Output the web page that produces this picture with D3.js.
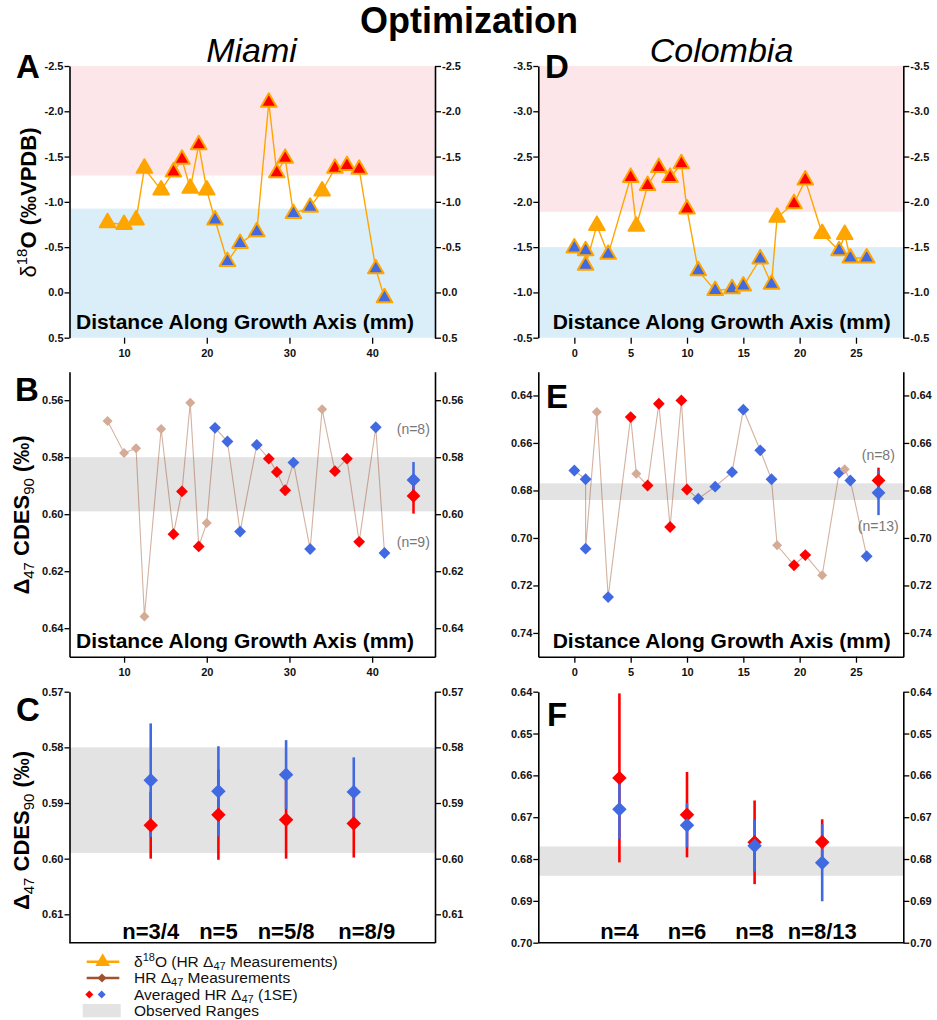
<!DOCTYPE html>
<html>
<head>
<meta charset="utf-8">
<script src="https://cdn.jsdelivr.net/npm/d3@7"></script>
<style>
  body { margin: 0; background: #fff; }
  svg { display: block; font-family: "Liberation Sans", Arial, sans-serif; }
</style>
</head>
<body>
<div id="chart"></div>
<script>
// ---- Miami (A, B, C) ----
const miamiDist = [8.0, 10.0, 11.45, 12.46, 14.48, 15.97, 17.0, 18.0, 19.03, 20.0, 21.0, 22.5, 24.03,
  26.05, 27.5, 28.47, 29.48, 30.48, 32.5, 33.95, 35.5, 36.95, 38.43, 40.44, 41.49];
const miamiD18O = [-0.77, -0.75, -0.80, -1.37, -1.13, -1.33, -1.47, -1.15, -1.63, -1.13, -0.80, -0.34, -0.54,
  -0.67, -2.10, -1.32, -1.48, -0.87, -0.94, -1.12, -1.37, -1.40, -1.36, -0.26, 0.06];
const miamiD47 = [0.5673, 0.5785, 0.5769, 0.6359, 0.5701, 0.6070, 0.5920, 0.5609, 0.6113, 0.6031, 0.5697, 0.5745, 0.6061,
  0.5757, 0.5805, 0.5852, 0.5916, 0.5819, 0.6122, 0.5632, 0.5849, 0.5805, 0.6097, 0.5695, 0.6136];
const miamiGroup = ['o', 'o', 'o', 'o', 'o', 'r', 'r', 'o', 'r', 'o', 'b', 'b', 'b',
  'b', 'r', 'r', 'r', 'b', 'b', 'o', 'r', 'r', 'r', 'b', 'b'];
const miamiPinkBand = [-2.5, -1.29];
const miamiBlueBand = [-0.925, 0.5];
const miamiObserved = [0.58, 0.599];
const miamiAvgX = 45;
const miamiAvgRed = [0.5936, 0.0062];
const miamiAvgBlue = [0.5880, 0.0063];
const miamiAvgLabels = ['(n=8)', '(n=9)'];

const miamiN = ['n=3/4', 'n=5', 'n=5/8', 'n=8/9'];
const miamiRedMean = [0.5940, 0.5921, 0.5930, 0.5937];
const miamiRedSE = [0.0060, 0.0081, 0.0070, 0.0061];
const miamiBlueMean = [0.5859, 0.5879, 0.5849, 0.5880];
const miamiBlueSE = [0.0102, 0.0081, 0.0062, 0.0062];

// ---- Colombia (D, E, F) ----
const colDist = [0, 1.0, 1.0, 2.0, 3.0, 5.0, 5.5, 6.5, 7.5, 8.5, 9.5, 10.0, 11.0,
  12.5, 14.0, 15.0, 16.5, 17.5, 18.0, 19.5, 20.5, 22.0, 23.5, 24.0, 24.5, 25.95];
const colD18O = [-1.49, -1.46, -1.30, -1.74, -1.42, -2.27, -1.73, -2.18, -2.38, -2.27, -2.42, -1.92, -1.24,
  -1.02, -1.04, -1.07, -1.37, -1.09, -1.83, -1.98, -2.24, -1.65, -1.46, -1.64, -1.38, -1.38];
const colD47 = [0.6716, 0.6753, 0.7045, 0.6470, 0.7249, 0.6491, 0.6730, 0.6779, 0.6435, 0.6954, 0.6421, 0.6796, 0.6835,
  0.6784, 0.6723, 0.6460, 0.6631, 0.6753, 0.7031, 0.7115, 0.7072, 0.7157, 0.6725, 0.6711, 0.6758, 0.7077];
const colGroup = ['b', 'b', 'b', 'o', 'b', 'r', 'o', 'r', 'r', 'r', 'r', 'r', 'b',
  'b', 'b', 'b', 'b', 'b', 'o', 'r', 'r', 'o', 'b', 'o', 'b', 'b'];
const colPinkBand = [-3.5, -1.89];
const colBlueBand = [-1.5, -0.5];
const colObserved = [0.677, 0.684];
const colAvgX = 27;
const colAvgRed = [0.6758, 0.0054];
const colAvgBlue = [0.6810, 0.0094];
const colAvgLabels = ['(n=8)', '(n=13)'];

const colN = ['n=4', 'n=6', 'n=8', 'n=8/13'];
const colRedMean = [0.6606, 0.6694, 0.6760, 0.6759];
const colRedSE = [0.0202, 0.0102, 0.0100, 0.0054];
const colBlueMean = [0.6681, 0.6719, 0.6768, 0.6809];
const colBlueSE = [0.0071, 0.0053, 0.0062, 0.0092];

// ticks
const miamiXTicks = [10, 20, 30, 40];
const colXTicks = [0, 5, 10, 15, 20, 25];
const miamiOTicks = [-2.5, -2.0, -1.5, -1.0, -0.5, 0.0, 0.5];
const colOTicks = [-3.5, -3.0, -2.5, -2.0, -1.5, -1.0, -0.5];
const miamiBTicks = [0.56, 0.58, 0.60, 0.62, 0.64];
const colETicks = [0.64, 0.66, 0.68, 0.70, 0.72, 0.74];
const miamiCTicks = [0.57, 0.58, 0.59, 0.60, 0.61];
const colFTicks = [0.64, 0.65, 0.66, 0.67, 0.68, 0.69, 0.70];

// colours
const ORANGE = '#ffa500', RED = '#ff0000', BLUE = '#4169e1', TAN = '#d3ab97', BROWN = '#a0522d';
const fillOf = { o: ORANGE, r: RED, b: BLUE };

// layout
const W = 937, H = 1020;
const colL = [69.5, 435], colR = [538.3, 903.3];
const rowTop = [66, 337.7], rowMid = [371.7, 656.7], rowBot = [691.7, 942.7];

const svg = d3.select('#chart').append('svg').attr('width', W).attr('height', H);

const tri = d3.symbol(d3.symbolTriangle, 105);
const diamond = s => d3.symbol(d3.symbolSquare, s);

function styleAxis(a, lineW) {
  a.selectAll('path.domain').attr('stroke', '#000').attr('stroke-width', lineW);
  a.selectAll('.tick line').attr('stroke', '#000').attr('stroke-width', 1.3);
  a.selectAll('.tick text').attr('fill', '#111').attr('font-size', 11).attr('font-weight', 'bold')
    .attr('font-family', '"Liberation Sans", Arial, sans-serif');
}

function yAxes(y, xr, ticks, fmt) {
  const l = svg.append('g').attr('transform', `translate(${xr[0]},0)`)
    .call(d3.axisLeft(y).tickValues(ticks).tickFormat(fmt).tickSize(5).tickSizeOuter(0).tickPadding(1));
  styleAxis(l, 1.6);
  const r = svg.append('g').attr('transform', `translate(${xr[1]},0)`)
    .call(d3.axisRight(y).tickValues(ticks).tickFormat(fmt).tickSize(6).tickSizeOuter(0).tickPadding(1));
  styleAxis(r, 1.6);
}

function xAxis(x, yPos, ticks, showDomain) {
  const a = svg.append('g').attr('transform', `translate(0,${yPos})`)
    .call(d3.axisBottom(x).tickValues(ticks).tickFormat(d3.format('d')).tickSize(6).tickSizeOuter(0).tickPadding(6));
  styleAxis(a, 1.6);
  if (!showDomain) a.select('path.domain').remove();
}

function band(x, y, range, color) {
  svg.append('rect')
    .attr('x', x.range()[0]).attr('width', x.range()[1] - x.range()[0])
    .attr('y', y(range[0])).attr('height', y(range[1]) - y(range[0]))
    .attr('fill', color);
}

function distLabel(xStart, yBase) {
  svg.append('text').attr('x', xStart).attr('y', yBase)
    .attr('font-size', 21).attr('font-weight', 'bold').attr('fill', '#000')
    .text('Distance Along Growth Axis (mm)');
}

function panelLetter(ch, x, y) {
  svg.append('text').attr('x', x).attr('y', y)
    .attr('font-size', 33).attr('font-weight', 'bold').text(ch);
}

const f1 = d => d.toFixed(1);
const f2 = d => d.toFixed(2);

// ---------- δ18O panels ----------
function d18Panel(xr, xDom, yDom, xTicks, yTicks, dist, vals, groups, pink, blue) {
  const x = d3.scaleLinear().domain(xDom).range(xr);
  const y = d3.scaleLinear().domain(yDom).range(rowTop);
  band(x, y, pink, '#fde6ea');
  band(x, y, blue, '#d9eef9');
  yAxes(y, xr, yTicks, f1);
  xAxis(x, rowTop[1], xTicks, false);

  const pts = dist.map((d, i) => ({ x: d, y: vals[i], g: groups[i] }));
  svg.append('path').datum(pts)
    .attr('fill', 'none').attr('stroke', ORANGE).attr('stroke-width', 1.4)
    .attr('d', d3.line().x(d => x(d.x)).y(d => y(d.y)));
  svg.append('g').selectAll('path').data(pts).join('path')
    .attr('transform', d => `translate(${x(d.x)},${y(d.y)})`)
    .attr('d', tri)
    .attr('fill', d => fillOf[d.g])
    .attr('stroke', ORANGE).attr('stroke-width', 2).attr('stroke-linejoin', 'round');
}

// ---------- Δ47 series panels ----------
function errBar(x, y, xv, m, se, color, w) {
  svg.append('line').attr('x1', x(xv)).attr('x2', x(xv))
    .attr('y1', y(m - se)).attr('y2', y(m + se))
    .attr('stroke', color).attr('stroke-width', w);
}
function avgDiamond(x, y, xv, m, color, s) {
  svg.append('path').attr('d', diamond(s))
    .attr('transform', `translate(${x(xv)},${y(m)}) rotate(45)`)
    .attr('fill', color);
}

function d47Panel(xr, xDom, yDom, xTicks, yTicks, dist, vals, groups, obs, avgX, avgRed, avgBlue) {
  const x = d3.scaleLinear().domain(xDom).range(xr);
  const y = d3.scaleLinear().domain(yDom).range(rowMid);
  band(x, y, obs, '#e3e3e3');
  yAxes(y, xr, yTicks, f2);
  xAxis(x, rowMid[1], xTicks, true);

  const pts = dist.map((d, i) => ({ x: d, y: vals[i], g: groups[i] }));
  svg.append('path').datum(pts)
    .attr('fill', 'none').attr('stroke', BROWN).attr('stroke-opacity', 0.45).attr('stroke-width', 1.1)
    .attr('d', d3.line().x(d => x(d.x)).y(d => y(d.y)));
  svg.append('g').selectAll('path').data(pts).join('path')
    .attr('transform', d => `translate(${x(d.x)},${y(d.y)}) rotate(45)`)
    .attr('d', d => diamond(d.g === 'o' ? 50 : 70)())
    .attr('fill', d => d.g === 'o' ? TAN : fillOf[d.g]);

  errBar(x, y, avgX, avgRed[0], avgRed[1], RED, 2.5);
  errBar(x, y, avgX, avgBlue[0], avgBlue[1], BLUE, 2.5);
  avgDiamond(x, y, avgX, avgRed[0], RED, 95);
  avgDiamond(x, y, avgX, avgBlue[0], BLUE, 95);
}

// ===== Titles =====
svg.append('text').attr('x', 469).attr('y', 33).attr('text-anchor', 'middle')
  .attr('font-size', 36).attr('font-weight', 'bold').text('Optimization');
svg.append('text').attr('x', 251.5).attr('y', 61.5).attr('text-anchor', 'middle')
  .attr('font-size', 34).attr('font-style', 'italic').text('Miami');
svg.append('text').attr('x', 721.5).attr('y', 61.5).attr('text-anchor', 'middle')
  .attr('font-size', 34).attr('font-style', 'italic').text('Colombia');

// ===== A & D =====
d18Panel(colL, [3.4, 47.6], [-2.5, 0.5], miamiXTicks, miamiOTicks, miamiDist, miamiD18O, miamiGroup, miamiPinkBand, miamiBlueBand);
d18Panel(colR, [-3.2, 29.2], [-3.5, -0.5], colXTicks, colOTicks, colDist, colD18O, colGroup, colPinkBand, colBlueBand);
distLabel(76, 329.3);
distLabel(552.7, 329.3);

// ===== B & E =====
d47Panel(colL, [3.4, 47.6], [0.55, 0.65], miamiXTicks, miamiBTicks, miamiDist, miamiD47, miamiGroup,
  miamiObserved, miamiAvgX, miamiAvgRed, miamiAvgBlue);
d47Panel(colR, [-3.2, 29.2], [0.63, 0.75], colXTicks, colETicks, colDist, colD47, colGroup,
  colObserved, colAvgX, colAvgRed, colAvgBlue);
distLabel(76, 648.3);
distLabel(552.7, 648.3);

// grey n-labels beside the averaged points
const nLab = (x, y, t) => svg.append('text').attr('x', x).attr('y', y).attr('text-anchor', 'middle')
  .attr('font-size', 14).attr('fill', '#777').text(t);
nLab(413.3, 433.5, miamiAvgLabels[0]);
nLab(413.3, 547, miamiAvgLabels[1]);
nLab(878.3, 460, colAvgLabels[0]);
nLab(878.3, 530.5, colAvgLabels[1]);

// ===== C & F =====
function summary(xr, yDom, yTicks, obs, labels, rm, rse, bm, bse, shifts) {
  const x = d3.scaleLinear().domain([-0.2, 5.2]).range(xr);
  const y = d3.scaleLinear().domain(yDom).range(rowBot);
  band(x, y, obs, '#e3e3e3');
  yAxes(y, xr, yTicks, f2);
  svg.append('line').attr('x1', xr[0]).attr('x2', xr[1]).attr('y1', rowBot[1]).attr('y2', rowBot[1])
    .attr('stroke', '#000').attr('stroke-width', 1.6);
  const idx = d3.range(labels.length);
  idx.forEach(i => errBar(x, y, i + 1, rm[i], rse[i], RED, 2.6));
  idx.forEach(i => errBar(x, y, i + 1, bm[i], bse[i], BLUE, 2.6));
  idx.forEach(i => avgDiamond(x, y, i + 1, rm[i], RED, 105));
  idx.forEach(i => avgDiamond(x, y, i + 1, bm[i], BLUE, 105));
  svg.append('g').selectAll('text').data(labels).join('text')
    .attr('x', (d, i) => x(i + 1) + shifts[i]).attr('y', rowBot[1] - 3.5)
    .attr('text-anchor', 'middle').attr('font-size', 22).attr('font-weight', 'bold')
    .text(d => d);
}
summary(colL, [0.57, 0.6151], miamiCTicks, miamiObserved, miamiN, miamiRedMean, miamiRedSE, miamiBlueMean, miamiBlueSE, [0, 0, 0, 13]);
summary(colR, [0.64, 0.70], colFTicks, colObserved, colN, colRedMean, colRedSE, colBlueMean, colBlueSE, [0, 0, 0, 0]);

// ===== panel letters =====
panelLetter('A', 16, 78.3);
panelLetter('B', 15, 400.7);
panelLetter('C', 16, 720.7);
panelLetter('D', 545, 78.3);
panelLetter('E', 546, 408);
panelLetter('F', 547, 725.7);

// ===== y-axis titles =====
function d18Title(cx, cy) {
  const t = svg.append('text').attr('transform', `translate(${cx},${cy}) rotate(-90)`)
    .attr('text-anchor', 'middle').attr('font-size', 22);
  t.append('tspan').text('δ');
  t.append('tspan').attr('font-size', 15).attr('dy', -9).text('18');
  t.append('tspan').attr('dy', 9).attr('font-weight', 'bold').text('O (‰VPDB)');
}
function d47Title(cx, cy) {
  const t = svg.append('text').attr('transform', `translate(${cx},${cy}) rotate(-90)`)
    .attr('text-anchor', 'middle').attr('font-size', 22).attr('font-weight', 'bold');
  t.append('tspan').text('Δ');
  t.append('tspan').attr('font-size', 15).attr('font-weight', 'normal').attr('dy', 5).text('47');
  t.append('tspan').attr('dy', -5).text(' CDES');
  t.append('tspan').attr('font-size', 15).attr('font-weight', 'normal').attr('dy', 5).text('90');
  t.append('tspan').attr('dy', -5).text(' (‰)');
}
d18Title(36, 202.5);
d47Title(29, 515);
d47Title(29, 830.5);

// ===== legend =====
const lg = svg.append('g');
const lgX = 134, lgRows = [961.7, 978, 994.5, 1010.7];
lg.append('line').attr('x1', 86.7).attr('x2', 119.3).attr('y1', lgRows[0]).attr('y2', lgRows[0])
  .attr('stroke', ORANGE).attr('stroke-width', 2.6);
lg.append('path').attr('d', d3.symbol(d3.symbolTriangle, 95)).attr('transform', `translate(102.7,${lgRows[0]})`)
  .attr('fill', ORANGE);
lg.append('line').attr('x1', 86.7).attr('x2', 119.3).attr('y1', lgRows[1]).attr('y2', lgRows[1])
  .attr('stroke', BROWN).attr('stroke-width', 2.6);
lg.append('path').attr('d', diamond(40)).attr('transform', `translate(102,${lgRows[1]}) rotate(45)`)
  .attr('fill', BROWN);
lg.append('path').attr('d', diamond(32)).attr('transform', `translate(89.3,${lgRows[2]}) rotate(45)`).attr('fill', RED);
lg.append('path').attr('d', diamond(32)).attr('transform', `translate(101.7,${lgRows[2]}) rotate(45)`).attr('fill', BLUE);
lg.append('rect').attr('x', 82.7).attr('y', 1004).attr('width', 38).attr('height', 13.3).attr('fill', '#e3e3e3');

const lt = (i) => lg.append('text').attr('x', lgX).attr('y', lgRows[i] + 5.2).attr('font-size', 15.5).attr('fill', '#111');
let t = lt(0);
t.append('tspan').text('δ');
t.append('tspan').attr('font-size', 11).attr('dy', -6).text('18');
t.append('tspan').attr('dy', 6).text('O (HR Δ');
t.append('tspan').attr('font-size', 11).attr('dy', 3).text('47');
t.append('tspan').attr('dy', -3).text(' Measurements)');
t = lt(1);
t.append('tspan').text('HR Δ');
t.append('tspan').attr('font-size', 11).attr('dy', 3).text('47');
t.append('tspan').attr('dy', -3).text(' Measurements');
t = lt(2);
t.append('tspan').text('Averaged HR Δ');
t.append('tspan').attr('font-size', 11).attr('dy', 3).text('47');
t.append('tspan').attr('dy', -3).text(' (1SE)');
lt(3).text('Observed Ranges');
</script>
</body>
</html>
